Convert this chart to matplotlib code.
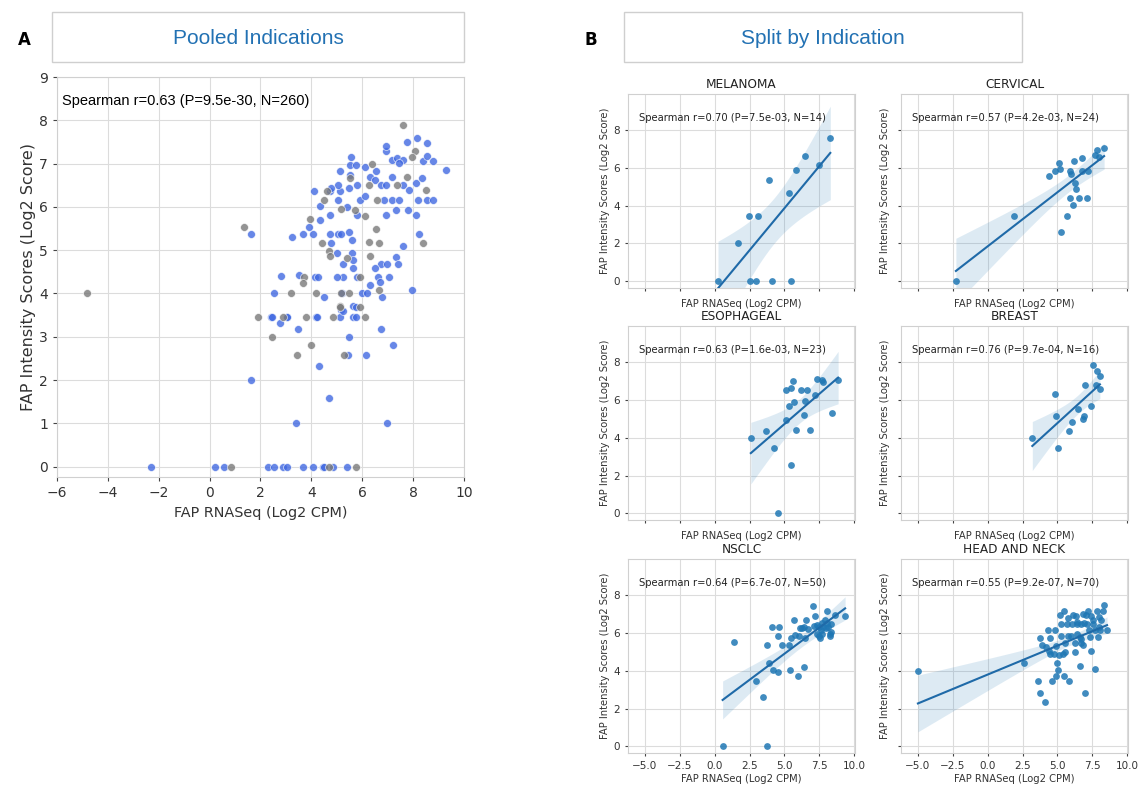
import numpy as np
import matplotlib.pyplot as plt
from matplotlib.patches import Rectangle

# ---- Panel A: pooled indications (blue / gray groups) ----
pool_blue_x = [1.64, 3.24, 4.09, 4.33, 3.66, 4.05, 3.92, 4.33, 4.75, 4.72, 5.11, 5.05, 5.11, 5.5, 5.57,
               5.48, 5.05, 4.72, 5.05, 5.17, 4.79, 5.02, 5.25, 5.6, 5.63, 5.63, 5.46, 5.6, 5.8, 5.8,
               5.93, 6.1, 6.1, 6.3, 6.53, 6.5, 6.73, 6.93, 6.86, 7.17, 6.93, 7.33, 7.46, 7.81, 7.6,
               7.85, 8.1, 6.93, 6.93, 7.17, 7.38, 7.6, 7.76, 8.16, 8.56, 8.37, 8.56, 8.8, 9.28, 8.34,
               8.2, 8.53, 8.8, 8.1, 8.24, 7.6, 7.33, 7.41, 6.72, 6.98, 7.05, 6.6, 6.5, 6.3, 6.77,
               6.7, 6.0, 6.2, 5.63, 5.8, 5.25, 5.0, 5.2, 5.18, 5.63, 7.97, 4.49, 4.15, 4.27, 3.5,
               2.8, 2.54, 2.43, 3.03, 4.2, 5.77, 4.79, 5.5, 5.39, 7.17, 7.46,
               2.45, 3.06, 4.22, 5.12, 5.74, 5.74, 5.24, 2.78, 3.49, 5.49, 5.44, 6.15, 6.73, 7.22,
               4.31, 1.64, 4.68, 3.39, 6.96,
               -2.31, 0.2, 0.55, 2.29, 2.55, 2.9, 3.06, 3.69, 4.05, 4.45, 4.49, 4.84, 5.41]
pool_blue_y = [5.37, 5.3, 6.36, 6.02, 5.37, 5.37, 5.53, 5.7, 5.81, 6.36, 6.36, 6.51, 6.82, 6.97, 7.15,
               6.43, 6.16, 5.37, 5.37, 5.37, 5.17, 4.94, 4.69, 4.94, 4.77, 4.58, 5.43, 5.23, 5.81, 6.51,
               6.16, 6.24, 6.93, 6.7, 6.82, 6.63, 6.51, 6.51, 6.16, 6.16, 5.81, 5.93, 6.16, 5.93, 6.51,
               6.39, 6.55, 7.3, 7.4, 7.09, 7.13, 7.09, 7.51, 7.59, 7.48, 7.05, 7.17, 7.05, 6.86, 6.66,
               6.16, 6.16, 6.16, 5.81, 5.37, 5.1, 4.85, 4.69, 4.69, 4.69, 4.39, 4.39, 4.58, 4.19, 3.92,
               4.27, 4.0, 4.0, 3.71, 4.39, 4.39, 4.39, 4.0, 3.61, 3.46, 4.09, 3.92, 4.39, 4.39, 4.42,
               4.4, 4.0, 3.46, 3.46, 3.46, 6.97, 6.43, 6.74, 6.0, 6.7, 7.01,
               3.46, 3.46, 3.46, 3.46, 3.46, 3.69, 3.6, 3.32, 3.17, 3.0, 2.59, 2.59, 3.17, 2.81,
               2.32, 2.0, 1.59, 1.0, 1.0,
               0, 0, 0, 0, 0, 0, 0, 0, 0, 0, 0, 0, 0]
pool_gray_x = [-4.82, 1.34, 7.61, 8.07, 7.96, 8.5, 8.37, 7.75, 7.38, 6.4, 5.5, 6.27, 4.6, 4.49, 3.96,
               4.42, 4.68, 4.75, 5.17, 5.73, 6.1, 6.54, 6.58, 6.27, 6.64, 6.31, 5.4, 5.93, 6.65, 5.48,
               5.17, 4.2, 3.2, 3.7, 3.66, 5.12,
               1.9, 2.9, 3.8, 4.86, 6.09, 5.14, 5.93, 2.44, 3.44, 4.0, 5.28,
               0.84, 4.68, 5.75]
pool_gray_y = [4.0, 5.53, 7.9, 7.3, 7.16, 6.39, 5.17, 6.69, 6.5, 7.0, 6.66, 6.5, 6.36, 6.16, 5.71,
               5.16, 4.97, 4.86, 5.95, 5.93, 5.8, 5.5, 6.16, 5.2, 5.17, 4.86, 4.81, 4.39, 4.08, 4.0,
               4.0, 4.0, 4.0, 4.39, 4.25, 3.71,
               3.46, 3.46, 3.46, 3.46, 3.46, 3.69, 3.69, 3.0, 2.59, 2.81, 2.59,
               0, 0, 0]
pool_label = 'Spearman r=0.63 (P=9.5e-30, N=260)'

# ---- Panel B: split by indication ----
indications = ['MELANOMA', 'CERVICAL', 'ESOPHAGEAL', 'BREAST', 'NSCLC', 'HEAD AND NECK']
spearman_labels = ['Spearman r=0.70 (P=7.5e-03, N=14)',
                   'Spearman r=0.57 (P=4.2e-03, N=24)',
                   'Spearman r=0.63 (P=1.6e-03, N=23)',
                   'Spearman r=0.76 (P=9.7e-04, N=16)',
                   'Spearman r=0.64 (P=6.7e-07, N=50)',
                   'Spearman r=0.55 (P=9.2e-07, N=70)']

melanoma_x = [0.24, 1.65, 2.48, 3.09, 2.55, 2.95, 3.89, 4.1, 5.35, 5.45, 5.85, 6.46, 7.5, 8.28]
melanoma_y = [0, 2.0, 3.44, 3.44, 0, 0, 5.34, 0, 4.68, 0, 5.9, 6.63, 6.13, 7.55]

cervical_x = [-2.27, 1.89, 4.37, 4.84, 5.09, 5.16, 5.91, 5.96, 6.17, 6.75, 6.75, 7.22, 6.29, 6.33,
              5.91, 6.57, 7.1, 6.12, 5.7, 5.26, 7.69, 7.85, 8.34, 7.97]
cervical_y = [0, 3.46, 5.54, 5.83, 6.27, 5.95, 5.83, 5.69, 6.36, 6.54, 5.83, 5.83, 5.19, 4.88,
              4.42, 4.42, 4.42, 4.03, 3.46, 2.6, 6.67, 6.93, 7.06, 6.58]

esophageal_x = [2.59, 3.7, 4.27, 4.53, 5.12, 5.14, 5.47, 5.61, 5.33, 5.71, 5.45, 5.83, 6.16, 6.63,
                6.42, 6.49, 6.84, 7.17, 7.36, 7.69, 7.74, 8.37, 8.84]
esophageal_y = [4.0, 4.37, 3.45, 0, 4.94, 6.52, 6.63, 6.98, 5.65, 5.88, 2.58, 4.4, 6.5, 6.5,
                5.2, 5.93, 4.4, 6.23, 7.09, 7.03, 6.95, 5.31, 7.03]

breast_x = [3.2, 4.84, 4.91, 5.07, 5.86, 6.03, 6.47, 6.85, 6.87, 6.99, 7.43, 7.55, 7.73, 7.83, 8.04, 8.04]
breast_y = [4.0, 6.31, 5.17, 3.45, 4.37, 4.85, 5.52, 5.01, 5.17, 6.79, 5.67, 7.86, 6.79, 7.5, 7.25, 6.56]

nsclc_x = [0.57, 3.73, 1.37, 2.95, 3.49, 3.77, 3.89, 4.13, 4.2, 4.53, 4.6, 4.53, 4.83, 5.33, 5.38,
           5.47, 5.66, 5.78, 5.97, 6.04, 6.13, 6.25, 6.39, 6.39, 6.46, 6.51, 6.7, 7.03, 7.17, 7.36,
           7.45, 7.45, 7.55, 7.59, 7.71, 7.78, 7.88, 8.02, 8.02, 8.14, 8.23, 8.33, 8.3, 8.61, 9.34,
           7.31, 7.97, 7.66, 7.08, 8.25]
nsclc_y = [0, 0, 5.52, 3.45, 2.59, 5.35, 4.39, 6.32, 4.01, 3.93, 6.32, 5.81, 5.35, 5.35, 4.01,
           5.72, 6.68, 5.9, 3.71, 5.81, 6.25, 6.25, 6.32, 4.19, 5.72, 6.68, 6.2, 7.39, 6.86, 6.41,
           6.32, 5.84, 5.72, 6.15, 6.5, 6.32, 6.68, 7.14, 6.5, 6.32, 5.81, 6.06, 6.47, 6.96, 6.86,
           5.93, 6.25, 5.93, 6.38, 5.93]

headneck_x = [-4.99, 2.58, 3.58, 3.75, 4.1, 3.72, 3.91, 4.15, 4.33, 4.38, 4.5, 4.5, 4.85, 4.92,
              4.96, 5.01, 4.87, 4.64, 5.22, 5.27, 5.13, 5.39, 5.46, 5.48, 5.55, 5.67, 5.76, 5.85,
              5.95, 6.02, 6.14, 6.23, 6.28, 6.32, 6.42, 6.6, 6.67, 6.72, 6.84, 6.84, 6.96, 7.05,
              7.12, 7.17, 7.26, 7.38, 7.42, 7.56, 7.66, 7.68, 7.82, 7.94, 8.06, 8.13, 8.29, 8.36,
              8.55, 5.2, 5.78, 6.6, 6.88, 7.54, 7.89, 6.37, 4.73, 5.57, 6.37, 6.72, 8.0, 7.31]
headneck_y = [4.0, 4.41, 3.45, 2.83, 2.33, 5.71, 5.36, 5.23, 6.16, 5.05, 4.88, 5.71, 6.16, 5.32,
              4.4, 4.02, 3.72, 3.45, 6.44, 5.82, 4.82, 4.88, 7.15, 3.72, 4.96, 6.44, 5.85, 3.45,
              5.85, 6.44, 6.96, 5.44, 4.96, 6.89, 6.44, 4.25, 5.44, 6.44, 7.0, 5.37, 2.83, 6.96,
              6.44, 7.15, 6.16, 6.89, 5.05, 6.69, 6.16, 4.11, 7.15, 6.3, 6.16, 6.69, 7.15, 7.49,
              6.16, 6.96, 6.8, 5.8, 6.51, 6.44, 5.8, 5.94, 4.88, 5.44, 6.57, 5.68, 6.83, 5.77]

split_x = [melanoma_x, cervical_x, esophageal_x, breast_x, nsclc_x, headneck_x]
split_y = [melanoma_y, cervical_y, esophageal_y, breast_y, nsclc_y, headneck_y]

plt.rcParams['font.family'] = ['DejaVu Sans']
ylab = 'FAP Intensity Scores (Log2 Score)'
xlab = 'FAP RNASeq (Log2 CPM)'


def style_axes(ax, fs):
    for s in ax.spines.values():
        s.set_color('#d0d0d0')
        s.set_linewidth(0.8)
    ax.grid(True, color='#dcdcdc', linewidth=0.8)
    ax.set_axisbelow(True)
    ax.tick_params(length=3, width=0.8, color='#444444', labelsize=fs, labelcolor='#333333')


def fit_band(x, y):
    # linear fit with 95% confidence band of the mean
    x = np.asarray(x, float)
    y = np.asarray(y, float)
    n = len(x)
    b, a = np.polyfit(x, y, 1)
    xs = np.linspace(x.min(), x.max(), 100)
    yhat = a + b * xs
    s = np.sqrt(np.sum((y - (a + b * x)) ** 2) / (n - 2))
    sxx = np.sum((x - x.mean()) ** 2)
    t = 1.96 + 2.4 / (n - 2)
    se = s * np.sqrt(1.0 / n + (xs - x.mean()) ** 2 / sxx)
    return xs, yhat, yhat - t * se, yhat + t * se


fig = plt.figure(figsize=(11.44, 7.89), dpi=100)

# headers
fig.text(0.0157, 0.949, 'A', fontsize=12, fontweight='bold', va='center', ha='left')
fig.text(0.511, 0.949, 'B', fontsize=12, fontweight='bold', va='center', ha='left')
fig.patches.append(Rectangle((0.0455, 0.9214), 0.360, 0.0634, transform=fig.transFigure,
                             facecolor='white', edgecolor='#cfcfcf', linewidth=1))
fig.patches.append(Rectangle((0.5455, 0.9214), 0.348, 0.0634, transform=fig.transFigure,
                             facecolor='white', edgecolor='#cfcfcf', linewidth=1))
fig.text(0.2255, 0.9518, 'Pooled Indications', fontsize=15, color='#2271b3',
         family='Liberation Sans', ha='center', va='center')
fig.text(0.7194, 0.9518, 'Split by Indication', fontsize=15, color='#2271b3',
         family='Liberation Sans', ha='center', va='center')

# panel A
axA = fig.add_axes([0.0498, 0.3954, 0.3558, 0.507])
style_axes(axA, 10)
axA.scatter(pool_blue_x, pool_blue_y, s=32, color='#4169E1', alpha=0.8,
            edgecolors='white', linewidths=0.5, zorder=3)
axA.scatter(pool_gray_x, pool_gray_y, s=32, color='#7a7a7a', alpha=0.8,
            edgecolors='white', linewidths=0.5, zorder=3)
axA.set_xlim(-6, 10)
axA.set_ylim(-0.24, 9)
axA.set_xticks(range(-6, 11, 2))
axA.set_yticks(range(0, 10))
axA.set_xlabel(xlab, fontsize=10.4, color='#333333')
axA.set_ylabel(ylab, fontsize=11.5, color='#333333', labelpad=2)
axA.text(0.012, 0.94, pool_label, transform=axA.transAxes, fontsize=10.5,
         family='Liberation Sans', va='center', ha='left')

# panel B
lefts = [0.549, 0.7876]
bottoms = [0.635, 0.3409, 0.0456]
w, h = 0.1984, 0.246
for i, name in enumerate(indications):
    r, c = divmod(i, 2)
    ax = fig.add_axes([lefts[c], bottoms[r], w, h])
    style_axes(ax, 7.5)
    ax.tick_params(length=2.5)
    ax.scatter(split_x[i], split_y[i], s=24, color='#1f77b4', alpha=0.85,
               linewidths=0, zorder=3)
    xs, yhat, lo, hi = fit_band(split_x[i], split_y[i])
    ax.fill_between(xs, lo, hi, color='#1f77b4', alpha=0.15, linewidth=0, zorder=2)
    ax.plot(xs, yhat, color='#1f6aa8', linewidth=1.5, zorder=4)
    ax.set_xlim(-6.2, 10.05)
    ax.set_ylim(-0.35, 9.9)
    ax.set_xticks([-5, -2.5, 0, 2.5, 5, 7.5, 10])
    ax.set_yticks([0, 2, 4, 6, 8])
    ax.set_title(name, fontsize=8.7, pad=4, color='#222222')
    ax.set_xlabel(xlab, fontsize=7.2, color='#333333', labelpad=2)
    ax.set_ylabel(ylab, fontsize=7.2, color='#333333', labelpad=2)
    ax.text(0.05, 0.875, spearman_labels[i], transform=ax.transAxes, fontsize=7.2,
            va='center', ha='left', color='#222222')
    if r < 2:
        ax.set_xticklabels([])
    if c == 1:
        ax.set_yticklabels([])

fig.savefig('out.png', dpi=100, facecolor='white')
